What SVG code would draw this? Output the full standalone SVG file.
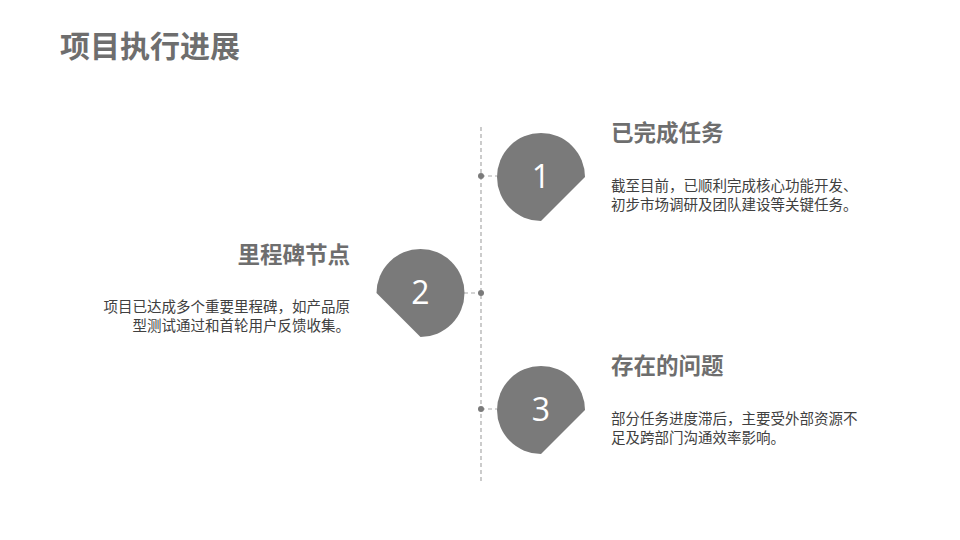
<svg xmlns="http://www.w3.org/2000/svg" width="960" height="540" viewBox="0 0 960 540">
<style>
text{font-family:"Noto Sans CJK SC","Noto Sans",sans-serif}
.t{font-size:30px;font-weight:bold;fill:#6e6e6e}
.h{font-size:22.5px;font-weight:bold;fill:#6e6e6e}
.b{font-size:14.5px;fill:#404040}
.n{font-size:32px;fill:#fff;text-anchor:middle;font-family:"Open Sans","Noto Sans",sans-serif}
.s{fill:#7a7a7a}
.d{stroke:#aaa;stroke-width:1.2;stroke-dasharray:4 3;fill:none}
</style>
<rect width="960" height="540" fill="#fff"/>
<text class="t" x="60" y="57">项目执行进展</text>
<g id="connectors">
<line class="d" x1="481" y1="127" x2="481" y2="484"/>
<line class="d" x1="481" y1="176" x2="497" y2="176"/>
<line class="d" x1="464" y1="293" x2="481" y2="293"/>
<line class="d" x1="481" y1="409" x2="497" y2="409"/>
<circle cx="481" cy="176" r="3" fill="#7a7a7a"/>
<circle cx="481" cy="293" r="3" fill="#7a7a7a"/>
<circle cx="481" cy="409" r="3" fill="#7a7a7a"/>
</g>
<g id="node1">
<path class="s" d="M585,177 A44,44 0 1 0 541,221 Z"/>
<text class="n" x="541" y="188">1</text>
<text class="h" x="611" y="141">已完成任务</text>
<text class="b" x="611" y="191">截至目前，已顺利完成核心功能开发、</text>
<text class="b" x="611" y="210">初步市场调研及团队建设等关键任务。</text>
</g>
<g id="node2">
<path class="s" d="M420.5,337 A44,44 0 1 0 376.5,293 Z"/>
<text class="n" x="420.5" y="304">2</text>
<text class="h" x="350" y="263" text-anchor="end">里程碑节点</text>
<text class="b" x="350" y="312" text-anchor="end">项目已达成多个重要里程碑，如产品原</text>
<text class="b" x="350" y="331" text-anchor="end">型测试通过和首轮用户反馈收集。</text>
</g>
<g id="node3">
<path class="s" d="M585,410 A44,44 0 1 0 541,454 Z"/>
<text class="n" x="541" y="421">3</text>
<text class="h" x="611" y="374">存在的问题</text>
<text class="b" x="611" y="424">部分任务进度滞后，主要受外部资源不</text>
<text class="b" x="611" y="443">足及跨部门沟通效率影响。</text>
</g>
</svg>
